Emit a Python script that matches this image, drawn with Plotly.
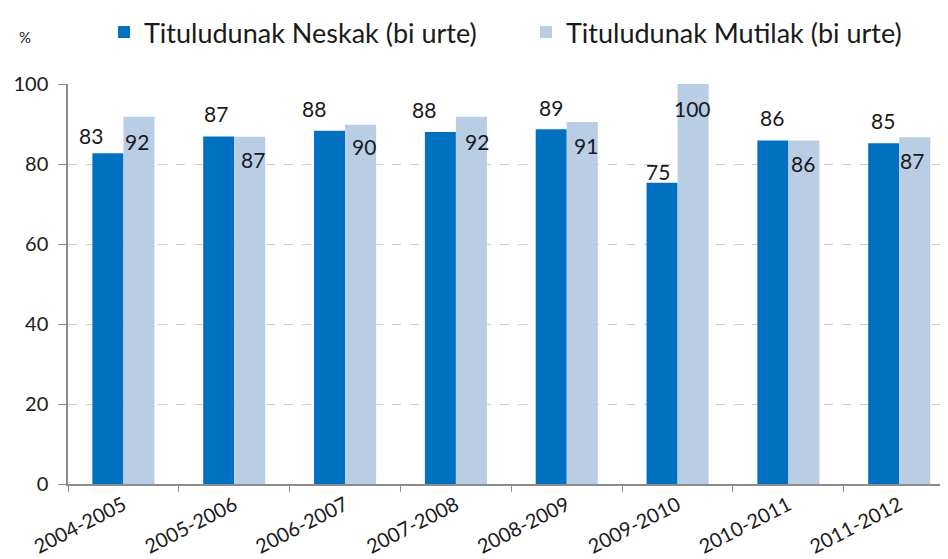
import plotly.graph_objects as go

categories = ["2004-2005", "2005-2006", "2006-2007", "2007-2008",
              "2008-2009", "2009-2010", "2010-2011", "2011-2012"]
neskak = [82.7, 86.9, 88.3, 88.0, 88.7, 75.3, 85.9, 85.2]
mutilak = [91.8, 86.8, 89.8, 91.8, 90.5, 100.0, 85.9, 86.7]
neskak_labels = ["83", "87", "88", "88", "89", "75", "86", "85"]
mutilak_labels = ["92", "87", "90", "92", "91", "100", "86", "87"]
y_ticks = [0, 20, 40, 60, 80, 100]

# label placement tweaks (pixels), style only
nes_dx = [-17, -3, -16, -16, 0, -4, -1, -1]
nes_dy = [18, 23, 22, 23, 22, 11, 23, 23]
mut_dx = [-2, 3, 3, 6, 4, -1, -1, -3]
mut_dy = [25, 23, 22, 25, 23, 24, 23, 23]

FONT = "Lato"
DARK = "#0070C0"
LIGHT = "#B9CDE5"
BAR_HALF = 15.5

# page body has an 8px margin; compensate so the chart fills the window
W, H = 940, 551
L, R, T, B = 60, 0, 76, 75

fig = go.Figure()
fig.add_trace(go.Bar(name="Tituludunak Neskak (bi urte)", x=categories, y=neskak,
                     marker=dict(color=DARK, line=dict(width=0))))
fig.add_trace(go.Bar(name="Tituludunak Mutilak (bi urte)", x=categories, y=mutilak,
                     marker=dict(color=LIGHT, line=dict(width=0))))

annotations = []
for i, c in enumerate(categories):
    annotations.append(dict(x=c, y=neskak[i], xref="x", yref="y", text=neskak_labels[i],
                            showarrow=False, xshift=-BAR_HALF + nes_dx[i], yshift=nes_dy[i],
                            yanchor="middle", xanchor="center",
                            font=dict(family=FONT, size=21, color="#1a1a1a")))
    annotations.append(dict(x=c, y=mutilak[i], xref="x", yref="y", text=mutilak_labels[i],
                            showarrow=False, xshift=BAR_HALF + mut_dx[i], yshift=-mut_dy[i],
                            yanchor="middle", xanchor="center",
                            font=dict(family=FONT, size=21, color="#1a1a1a")))

pw = W - L - R
ph = H - T - B
annotations.append(dict(x=(9 - L) / pw, y=(H - B - 29) / ph, xref="paper", yref="paper",
                        text="%", showarrow=False, xanchor="left", yanchor="middle",
                        font=dict(family=FONT, size=15, color="#1a1a1a")))

fig.update_layout(
    width=W, height=H,
    margin=dict(l=L, r=R, t=T, b=B, autoexpand=False),
    paper_bgcolor="white", plot_bgcolor="white",
    barmode="group", bargap=0.44, bargroupgap=0,
    font=dict(family=FONT, size=20, color="#1a1a1a"),
    legend=dict(orientation="h", x=(96 - L) / pw, xanchor="left", y=1.0, yref="container",
                yanchor="top", font=dict(family=FONT, size=27, color="#1a1a1a"),
                itemwidth=30, entrywidth=377, traceorder="normal"),
    annotations=annotations,
    xaxis=dict(range=[-0.5, 7.44], showline=True, linecolor="#8c8c8c", linewidth=1.5,
               ticks="outside", ticklen=6, tickcolor="#8c8c8c", tickson="boundaries",
               tickangle=-27, showgrid=False,
               tickfont=dict(family=FONT, size=20, color="#1a1a1a")),
    yaxis=dict(range=[0, 100], tickvals=y_ticks, showline=True, linecolor="#8c8c8c",
               linewidth=1.5, ticks="outside", ticklen=8, tickcolor="#8c8c8c",
               ticklabelstandoff=6,
               showgrid=True, gridcolor="#cccccc", griddash="dash", gridwidth=1,
               zeroline=False, tickfont=dict(family=FONT, size=20, color="#1a1a1a")),
)

fig.write_html("out.html")
